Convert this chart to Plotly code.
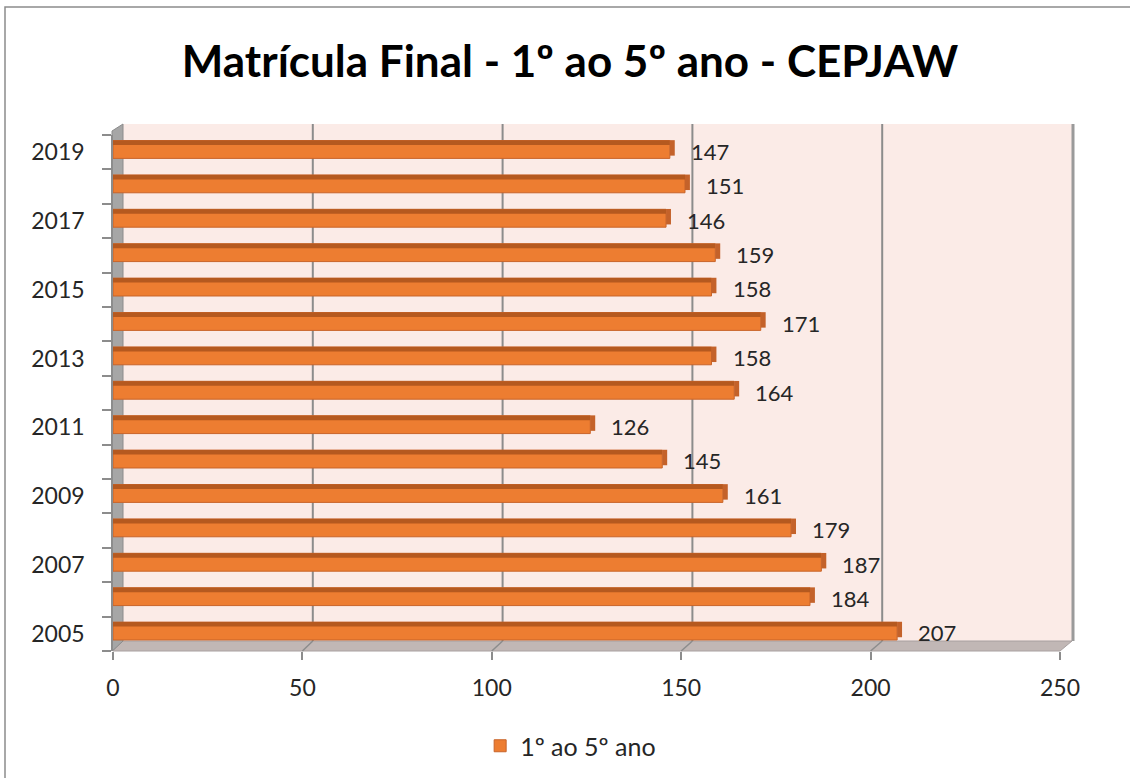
import plotly.graph_objects as go

# ---- data ----
years = [2005, 2006, 2007, 2008, 2009, 2010, 2011, 2012, 2013, 2014, 2015, 2016, 2017, 2018, 2019]
values = [207, 184, 187, 179, 161, 145, 126, 164, 158, 171, 158, 159, 146, 151, 147]
series_name = "1º ao 5º ano"
title_text = "Matrícula Final - 1º ao 5º ano - CEPJAW"
x_ticks = [0, 50, 100, 150, 200, 250]
y_tick_years = [2005, 2007, 2009, 2011, 2013, 2015, 2017, 2019]

# ---- layout geometry (pixels) ----
W, H = 1130, 778
L, R, T, B = 113, 1060, 135, 651   # plot area in pixels

def px(xp):
    return (xp - L) / (R - L)

def py(yp):
    return (B - yp) / (B - T)

FONT = "Lato"
ORANGE = "#ED7D31"
DARK = "#B5591F"
CAP_LEN = 1.3   # depth of the 3D end cap, in axis units (style)

fig = go.Figure()

# main bar faces
fig.add_trace(go.Bar(
    x=values, y=years, orientation="h", name=series_name,
    marker=dict(color=ORANGE, line=dict(color="#C8642A", width=1)),
    width=0.52, offset=-0.18, showlegend=True, hoverinfo="x+y",
))
# dark top strip (3D top face)
fig.add_trace(go.Bar(
    x=values, y=years, orientation="h", name=series_name,
    marker=dict(color=DARK, line=dict(width=0)),
    width=0.13, offset=0.21, showlegend=False, hoverinfo="skip",
))
# 3D end cap
fig.add_trace(go.Bar(
    x=[CAP_LEN] * len(values), base=values, y=years, orientation="h", name=series_name,
    marker=dict(color="#C4622A", line=dict(width=0)),
    width=0.45, offset=-0.10, showlegend=False, hoverinfo="skip",
))

# data labels
for v, yr in zip(values, years):
    fig.add_annotation(x=v, y=yr, text=str(v), xanchor="left", yanchor="middle",
                       xshift=19, yshift=1, showarrow=False,
                       font=dict(family=FONT, size=22, color="#262626"))

shapes = []
# chart border (top & left visible)
shapes.append(dict(type="rect", xref="paper", yref="paper",
                   x0=px(5), x1=px(1140), y0=py(7), y1=py(790),
                   line=dict(color="#8C8C8C", width=1.5), fillcolor="rgba(0,0,0,0)", layer="below"))
# back wall
shapes.append(dict(type="rect", xref="paper", yref="paper",
                   x0=px(123), x1=px(1072), y0=py(641), y1=py(124),
                   line=dict(width=0), fillcolor="#FBEBE7", layer="below"))
# floor
shapes.append(dict(type="path", xref="paper", yref="paper",
                   path=f"M {px(113)} {py(651)} L {px(1060)} {py(651)} L {px(1072)} {py(641)} L {px(123)} {py(641)} Z",
                   line=dict(color="#A8A0A0", width=1), fillcolor="#C1B7B5", layer="below"))
# left side wall
shapes.append(dict(type="path", xref="paper", yref="paper",
                   path=f"M {px(112)} {py(651)} L {px(112)} {py(131)} L {px(123)} {py(124)} L {px(123)} {py(641)} Z",
                   line=dict(color="#8C8C8C", width=1), fillcolor="#A6A6A6", layer="below"))
# right edge of back wall
shapes.append(dict(type="line", xref="paper", yref="paper",
                   x0=px(1073), x1=px(1073), y0=py(641), y1=py(124),
                   line=dict(color="#9A9A9A", width=3), layer="below"))
# back-wall gridlines
for v in x_ticks[1:-1]:
    off = 10 + 2 * v / 250
    shapes.append(dict(type="line", xref="x", yref="paper", xsizemode="pixel", xanchor=v,
                       x0=off, x1=off, y0=py(641), y1=py(124),
                       line=dict(color="#8C8C8C", width=2), layer="below"))
    shapes.append(dict(type="line", xref="x", yref="paper", xsizemode="pixel", xanchor=v,
                       x0=0, x1=off, y0=py(651), y1=py(641),
                       line=dict(color="#8C8C8C", width=1.5), layer="below"))

fig.update_layout(
    width=W, height=H,
    margin=dict(l=L, r=W - R, t=T, b=H - B, pad=0),
    paper_bgcolor="white", plot_bgcolor="rgba(0,0,0,0)",
    barmode="overlay",
    shapes=shapes,
    title=dict(text=f"<b>{title_text}</b>", x=570 / W, xref="container", xanchor="center",
               y=1 - 62 / H, yanchor="middle", yref="container",
               font=dict(family=FONT, size=44, color="black")),
    showlegend=True,
    legend=dict(orientation="h", x=0.505, xref="container", xanchor="center",
                y=1 - 746 / H, yref="container", yanchor="middle",
                font=dict(family=FONT, size=25, color="#262626"),
                bgcolor="rgba(0,0,0,0)"),
    xaxis=dict(range=[0, 250], tickvals=x_ticks, ticks="outside", ticklen=8,
               tickcolor="#8C8C8C", tickwidth=1.5, showgrid=False, zeroline=False,
               showline=False, ticklabelstandoff=8,
               tickfont=dict(family=FONT, size=23, color="#262626")),
    yaxis=dict(range=[2004.5, 2019.5], tickvals=y_tick_years,
               ticktext=[str(y) for y in y_tick_years], ticks="",
               showgrid=False, zeroline=False, showline=True,
               linecolor="#8C8C8C", linewidth=1.5, ticklabelstandoff=22,
               minor=dict(tickvals=[2004.5 + i for i in range(16)], ticks="outside",
                          ticklen=9, tickcolor="#8C8C8C", tickwidth=1.5, showgrid=False),
               tickfont=dict(family=FONT, size=23, color="#262626")),
)

fig.write_html("out.html", config={"displayModeBar": False},
               post_script="document.body.style.margin='0';document.body.style.overflow='hidden';")
